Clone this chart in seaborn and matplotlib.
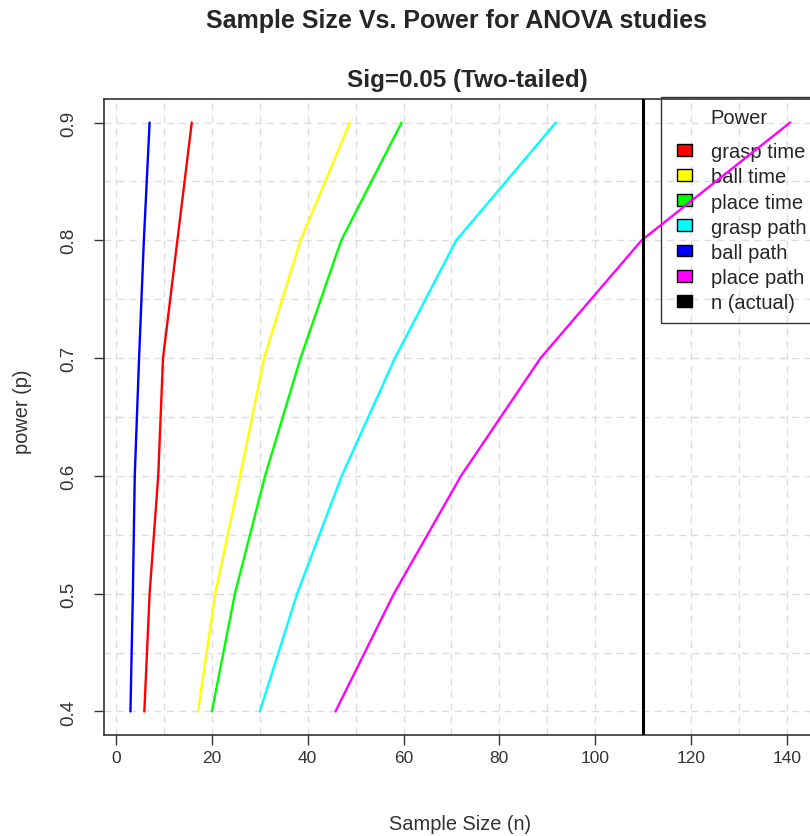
import matplotlib
matplotlib.use("Agg")
import matplotlib.pyplot as plt
from matplotlib.patches import Patch, Rectangle
from matplotlib.legend_handler import HandlerPatch
import numpy as np
import pandas as pd
import seaborn as sns

# Required sample size per group at each target power
power = [0.4, 0.5, 0.6, 0.7, 0.8, 0.9]
grasp_time = [5.9, 7.0, 8.8, 9.8, 12.8, 15.8]
ball_time = [17.1, 20.7, 25.9, 30.9, 38.5, 48.8]
place_time = [20.0, 24.8, 31.1, 38.5, 47.0, 59.6]
grasp_path = [30.0, 37.8, 47.1, 58.2, 71.0, 91.8]
ball_path = [3.0, 3.5, 3.9, 4.8, 5.8, 7.0]
place_path = [45.8, 58.0, 72.0, 88.6, 109.7, 140.7]
n_actual = 110

measures = ["grasp time", "ball time", "place time", "grasp path", "ball path", "place path"]
series = [grasp_time, ball_time, place_time, grasp_path, ball_path, place_path]
colors = ["#ff0000", "#ffff00", "#00ff00", "#00ffff", "#0000ff", "#ff00ff"]
x_ticks = [0, 20, 40, 60, 80, 100, 120, 140]
y_ticks = [0.4, 0.5, 0.6, 0.7, 0.8, 0.9]

df = pd.DataFrame({
    "n": np.concatenate(series),
    "power": power * len(series),
    "measure": np.repeat(measures, len(power)),
})

sns.set_style("white")
plt.rcParams["font.family"] = ["Liberation Sans", "DejaVu Sans"]

fig = plt.figure(figsize=(8.10, 8.37), dpi=100)
W, H = 810, 837
left, right, top, bottom = 104, 818, 100, 736
ax = fig.add_axes([left / W, 1 - bottom / H, (right - left) / W, (bottom - top) / H])

sns.lineplot(data=df, x="n", y="power", hue="measure", hue_order=measures,
             palette=colors, sort=False, estimator=None, linewidth=1.7,
             legend=False, ax=ax, zorder=3)
ax.axvline(n_actual, color="black", linewidth=2.2, zorder=4)

ax.set_xlim(-2.52, 146.52)
ax.set_ylim(0.38, 0.92)
ax.set_xticks(x_ticks)
ax.set_yticks(y_ticks)
ax.set_xticks(np.arange(0, 141, 10), minor=True)
ax.set_yticks(np.arange(0.4, 0.91, 0.05), minor=True)
ax.grid(which="both", color="#dcdcdc", linestyle=(0, (5, 4)), linewidth=1.0, zorder=0)
ax.tick_params(which="major", direction="out", length=7, width=1, color="#333333",
               labelsize=12.5, colors="#333333", bottom=True, left=True)
ax.tick_params(axis="y", which="major", pad=12, labelsize=13.5)
ax.tick_params(which="minor", length=0)
ax.set_yticklabels([f"{v:.1f}" for v in y_ticks], rotation=90, va="center")
ax.set_xticklabels([str(v) for v in x_ticks])
for s in ax.spines.values():
    s.set_color("#333333")
    s.set_linewidth(1.2)

ax.set_xlabel("")
ax.set_ylabel("")
fig.text(460 / W, 1 - 825 / H, "Sample Size (n)", ha="center", va="center", fontsize=14.4, color="#333333")
fig.text(22 / W, 1 - 412 / H, "power (p)", ha="center", va="center", rotation=90, fontsize=14.4, color="#333333")
fig.text(456 / W, 1 - 21 / H, "Sample Size Vs. Power for ANOVA studies", ha="center", va="center",
         fontsize=18, fontweight="bold")
fig.text(467 / W, 1 - 80 / H, "Sig=0.05 (Two-tailed)", ha="center", va="center",
         fontsize=17.5, fontweight="bold")


# Small filled boxes, right-aligned inside the legend handle slot
def key_box(legend, orig_handle, xdescent, ydescent, width, height, fontsize):
    w, h = 11.5, 8.6
    return Rectangle((-xdescent + width - w, -ydescent + (height - h) / 2), w, h)


handles = [Patch(facecolor=c, edgecolor="black", linewidth=1.0) for c in colors + ["#000000"]]
labels = measures + ["n (actual)"]
leg = ax.legend(handles, labels, title="Power", loc="upper left",
                bbox_to_anchor=(0.7805, 1.003), frameon=True, fancybox=False,
                fontsize=14.5, title_fontsize=14.5, handlelength=1.0, handleheight=0.6,
                handletextpad=0.9, labelspacing=0.3, borderpad=0.55, borderaxespad=0,
                handler_map={Patch: HandlerPatch(patch_func=key_box)})
leg._legend_box.sep = 11
leg.get_frame().set_facecolor("none")
leg.get_frame().set_edgecolor("black")
leg.get_frame().set_linewidth(1.0)
leg.set_zorder(2)

fig.savefig("out.png", dpi=100)
